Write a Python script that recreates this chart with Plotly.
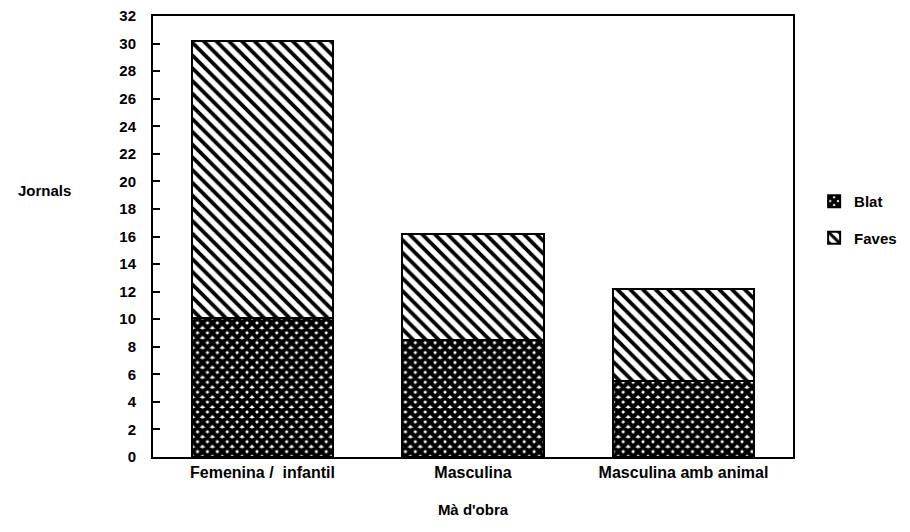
import plotly.graph_objects as go

categories = ["Femenina /  infantil", "Masculina", "Masculina amb animal"]
blat = [10.1, 8.5, 5.5]
faves = [20.1, 7.7, 6.7]
y_ticks = list(range(0, 33, 2))

FONT = dict(family="Arial, Liberation Sans, sans-serif", size=15, color="black", weight=700)
XFONT = dict(FONT, size=16)

fig = go.Figure()
fig.add_trace(go.Bar(
    x=categories, y=blat, name="Blat", legendgroup="a",
    width=0.67,
    marker=dict(color="black",
                line=dict(color="black", width=2),
                pattern=dict(shape="x", fgcolor="black", bgcolor="white",
                             size=7, solidity=0.85, fillmode="replace")),
))
fig.add_trace(go.Bar(
    x=categories, y=faves, name="Faves", legendgroup="b",
    width=0.67,
    marker=dict(color="white",
                line=dict(color="black", width=2),
                pattern=dict(shape="\\", fgcolor="black", bgcolor="white",
                             size=9, solidity=0.42, fillmode="replace")),
))

# the page body has an 8px margin, so the figure is sized to fit the window
fig.update_layout(
    barmode="stack",
    width=902, height=524,
    margin=dict(l=145, r=117, t=8, b=75, autoexpand=False),
    paper_bgcolor="white", plot_bgcolor="white",
    font=FONT,
    showlegend=True,
    legend=dict(x=1.033, y=0.617, xanchor="left", yanchor="top",
                traceorder="grouped", tracegroupgap=14,
                font=FONT, bgcolor="rgba(0,0,0,0)"),
    xaxis=dict(
        range=[-0.52, 2.52], showline=True, linecolor="black", linewidth=2,
        mirror=True, ticks="", showgrid=False, tickfont=XFONT,
        automargin=False,
        title=dict(text="Mà d'obra", font=FONT, standoff=24),
    ),
    yaxis=dict(
        range=[0, 32], tickvals=y_ticks, showline=True, linecolor="black",
        linewidth=2, mirror=True, ticks="inside", ticklen=7, tickwidth=2,
        tickcolor="black", showgrid=False, zeroline=False, tickfont=FONT,
        ticklabelstandoff=12, automargin=False, ticklabeloverflow="allow",
    ),
    annotations=[dict(text="Jornals", xref="paper", yref="paper",
                      x=-0.17, y=0.604, showarrow=False, font=FONT,
                      xanchor="center", yanchor="middle")],
)

fig.write_html("out.html")
